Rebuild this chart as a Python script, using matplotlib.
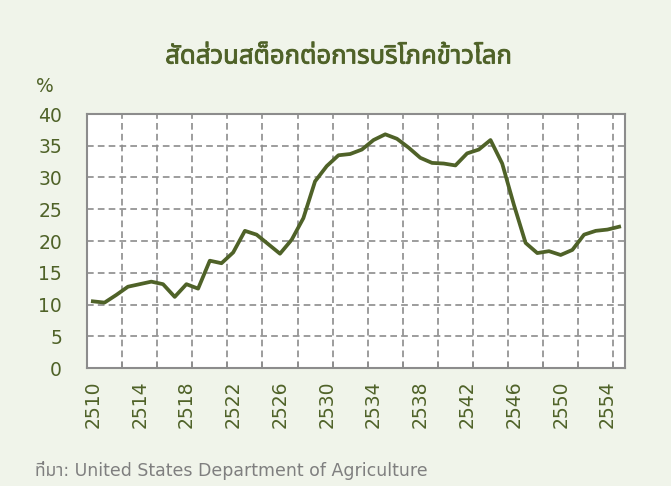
import matplotlib
matplotlib.use("Agg")
import matplotlib.pyplot as plt
import matplotlib.patheffects as pe
from matplotlib import font_manager, ft2font


# stock-to-use ratio of world rice, Thai years 2510-2555
years = list(range(2510, 2556))
ratio = [10.5, 10.3, 11.5, 12.8, 13.2, 13.6, 13.2, 11.2, 13.2, 12.5,
         16.9, 16.5, 18.2, 21.6, 21.0, 19.5, 18.0, 20.2, 23.6, 29.4,
         31.8, 33.5, 33.7, 34.4, 35.9, 36.8, 36.1, 34.7, 33.1, 32.3,
         32.2, 31.9, 33.8, 34.4, 35.9, 32.2, 25.7, 19.7, 18.1, 18.4,
         17.8, 18.6, 21.0, 21.6, 21.8, 22.25]
label_years = [2510, 2514, 2518, 2522, 2526, 2530, 2534, 2538, 2542, 2546, 2550, 2554]
y_ticks = [0, 5, 10, 15, 20, 25, 30, 35, 40]

title = "สัดส่วนสต็อกต่อการบริโภคข้าวโลก"
source = "ที่มา: United States Department of Agriculture"


def find_thai_font():
    # pick any installed font that has Thai glyphs
    names = []
    for f in font_manager.fontManager.ttflist:
        try:
            if ord("ส") in ft2font.FT2Font(f.fname).get_charmap():
                names.append(f.name)
        except Exception:
            pass
    for pref in ["Noto Sans Thai", "Noto Sans Thai UI", "Loma", "Garuda", "Tlwg Typo"]:
        if pref in names:
            return pref
    return names[0] if names else "DejaVu Sans"


thai = find_thai_font()
fam = ["DejaVu Sans", thai]

green = "#4f6228"
grey = "#8c8c8c"
bg = "#f0f4ea"

fig = plt.figure(figsize=(6.71, 4.86), dpi=100, facecolor=bg)
ax = fig.add_axes([87 / 671, 1 - 368 / 486, 538 / 671, 254 / 486])
ax.set_facecolor("white")

xs = [i + 0.5 for i in range(len(years))]
ax.plot(xs, ratio, color=green, lw=2.7, solid_joinstyle="round", zorder=3)

ax.set_xlim(0, len(years))
ax.set_ylim(0, 40)

# gridlines / tick marks every 3 categories
ax.set_xticks(range(0, len(years) + 1, 3))
ax.set_xticklabels([])
ax.tick_params(axis="x", which="major", direction="in", length=4, color=grey, width=1.2)
label_pos = [years.index(y) + 0.5 for y in label_years]
ax.set_xticks(label_pos, [str(y) for y in label_years], minor=True)
ax.tick_params(axis="x", which="minor", length=0, pad=9, labelrotation=90,
               labelsize=13.5, labelcolor=green)

ax.set_yticks(y_ticks)
ax.tick_params(axis="y", length=0, pad=18, labelsize=13.5, labelcolor=green)

ax.grid(True, which="major", color=grey, lw=1.2, ls=(0, (4, 2.5)))
for s in ax.spines.values():
    s.set_color(grey)
    s.set_linewidth(1.5)

for lab in ax.get_xticklabels(minor=True) + ax.get_yticklabels():
    lab.set_family(fam)

# the Thai font has no bold face, so thicken the title a little
fig.text(339 / 671, 1 - 57 / 486, title, ha="center", va="center",
         fontsize=18.5, fontweight="bold", color=green, family=[thai, "DejaVu Sans"],
         path_effects=[pe.withStroke(linewidth=0.6, foreground=green)])
fig.text(45 / 671, 1 - 87 / 486, "%", ha="center", va="center",
         fontsize=13.5, color=green, family=fam)
fig.text(35 / 671, 1 - 470 / 486, source, ha="left", va="center",
         fontsize=12.5, color="#7f7f7f", family=fam)

fig.savefig("out.png", dpi=100, facecolor=bg)
